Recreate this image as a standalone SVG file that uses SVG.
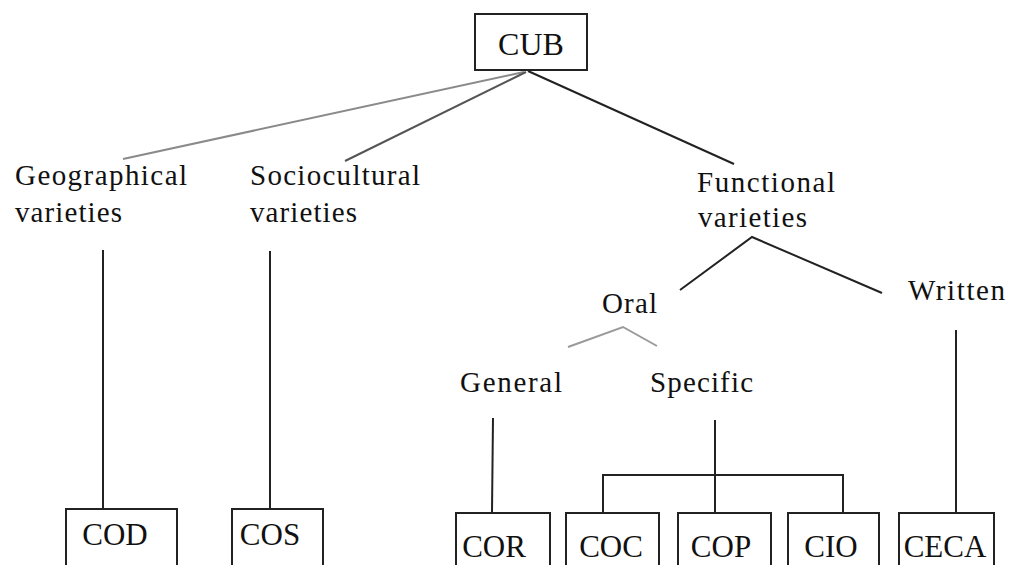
<svg xmlns="http://www.w3.org/2000/svg" width="1013" height="565" viewBox="0 0 1013 565" font-family="Liberation Serif, DejaVu Serif, serif">
<style>
.t{font-size:29px;fill:#111}
.b{font-size:31px;text-anchor:middle;fill:#111}
.box{fill:#fff;stroke:#222;stroke-width:2}
.ln{fill:none;stroke:#222;stroke-width:2}
.g1{stroke:#8a8a8a}
.g2{stroke:#555}
.g3{stroke:#9a9a9a}
</style>
<rect width="1013" height="565" fill="#fff"/>
<g id="connectors">
<line class="ln g1" x1="524" y1="72" x2="123" y2="159"/>
<line class="ln g2" x1="526" y1="72" x2="345" y2="161"/>
<line class="ln" x1="528" y1="71" x2="734" y2="164"/>
<line class="ln" x1="103" y1="250" x2="103" y2="509"/>
<line class="ln" x1="270" y1="251" x2="270" y2="509"/>
<polyline class="ln" points="680,290 752,237 882,293"/>
<polyline class="ln g3" points="568,347 623,327 657,346"/>
<line class="ln" x1="956" y1="330" x2="956" y2="513"/>
<line class="ln" x1="493" y1="418" x2="492" y2="512"/>
<line class="ln" x1="715" y1="420" x2="715" y2="512"/>
<polyline class="ln" points="603,512 603,475 843,475 843,512"/>
</g>
<g id="CUB"><rect class="box" x="475" y="14" width="112" height="56"/><text class="b" x="531" y="55" style="font-size:32px" font-family="Liberation Serif">CUB</text></g>
<g id="geographical"><text class="t" x="15" y="185" textLength="172" lengthAdjust="spacing" font-family="Liberation Serif">Geographical</text><text class="t" x="15" y="222" textLength="107" lengthAdjust="spacing" font-family="Liberation Serif">varieties</text></g>
<g id="sociocultural"><text class="t" x="250" y="185" textLength="170" lengthAdjust="spacing" font-family="Liberation Serif">Sociocultural</text><text class="t" x="250" y="222" textLength="107" lengthAdjust="spacing" font-family="Liberation Serif">varieties</text></g>
<g id="functional"><text class="t" x="697" y="192" textLength="138" lengthAdjust="spacing" font-family="Liberation Serif">Functional</text><text class="t" x="698" y="227" textLength="109" lengthAdjust="spacing" font-family="Liberation Serif">varieties</text></g>
<g id="oral"><text class="t" x="602" y="313" textLength="55" lengthAdjust="spacing" font-family="Liberation Serif">Oral</text></g>
<g id="written"><text class="t" x="908" y="300" textLength="97" lengthAdjust="spacing" font-family="Liberation Serif">Written</text></g>
<g id="general"><text class="t" x="460" y="392" textLength="102" lengthAdjust="spacing" font-family="Liberation Serif">General</text></g>
<g id="specific"><text class="t" x="650" y="392" textLength="103" lengthAdjust="spacing" font-family="Liberation Serif">Specific</text></g>
<g id="COD"><rect class="box" x="66" y="509" width="111" height="62"/><text class="b" x="115" y="545" font-family="Liberation Serif">COD</text></g>
<g id="COS"><rect class="box" x="232" y="509" width="91" height="62"/><text class="b" x="270" y="545" font-family="Liberation Serif">COS</text></g>
<g id="COR"><rect class="box" x="456" y="513" width="94" height="60"/><text class="b" x="494" y="557" font-family="Liberation Serif">COR</text></g>
<g id="COC"><rect class="box" x="566" y="513" width="93" height="60"/><text class="b" x="611" y="557" font-family="Liberation Serif">COC</text></g>
<g id="COP"><rect class="box" x="678" y="513" width="93" height="60"/><text class="b" x="721" y="557" font-family="Liberation Serif">COP</text></g>
<g id="CIO"><rect class="box" x="788" y="513" width="91" height="60"/><text class="b" x="831" y="557" font-family="Liberation Serif">CIO</text></g>
<g id="CECA"><rect class="box" x="899" y="513" width="95" height="60"/><text class="b" x="945" y="557" font-family="Liberation Serif">CECA</text></g>
</svg>
